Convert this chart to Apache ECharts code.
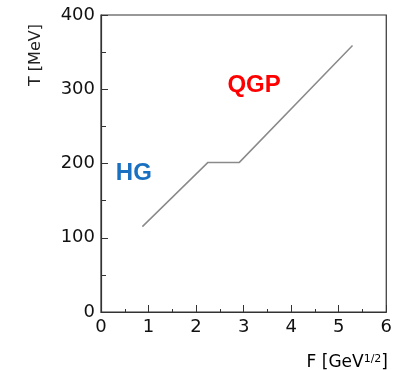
<!DOCTYPE html>
<html><head><meta charset="utf-8">
<script src="https://cdn.jsdelivr.net/npm/echarts@6/dist/echarts.min.js"></script>
<style>html,body{margin:0;padding:0;background:#fff}#c{width:395px;height:370px}</style>
</head><body><div id="c"></div>
<script>
// Curve T(F)
const lineF = [0.87, 2.25, 2.91, 5.29];
const lineT = [115, 201.5, 201.5, 359];
// Phase annotations
const phaseNames = ['HG', 'QGP'];
const phaseF = [0.69, 3.22];
const phaseT = [187, 305];
const phaseColors = ['#1a70c0', '#ff0000'];
// Axes
const xTicks = [0, 1, 2, 3, 4, 5, 6];
const yTicks = [0, 100, 200, 300, 400];

const chart = echarts.init(document.getElementById('c'));
const axisFont = {fontFamily: 'DejaVu Sans', fontSize: 18, color: '#111'};
chart.setOption({
  animation: false,
  grid: {left: 101, right: 7, top: 15, bottom: 58, show: true, borderColor: '#333', borderWidth: 1.2},
  xAxis: {
    type: 'value', min: xTicks[0], max: xTicks[xTicks.length - 1], interval: 1,
    axisLine: {lineStyle: {color: '#333', width: 1.2}},
    axisTick: {inside: true, length: 7, lineStyle: {color: '#333'}},
    minorTick: {show: true, splitNumber: 2, length: 3, lineStyle: {color: '#333'}},
    splitLine: {show: false},
    axisLabel: Object.assign({margin: 6}, axisFont)
  },
  yAxis: {
    type: 'value', min: yTicks[0], max: yTicks[yTicks.length - 1], interval: 100,
    axisLine: {show: true, lineStyle: {color: '#333', width: 1.2}},
    axisTick: {show: true, inside: true, length: 7, lineStyle: {color: '#333'}},
    minorTick: {show: true, splitNumber: 2, length: 5, lineStyle: {color: '#333'}},
    splitLine: {show: false},
    axisLabel: Object.assign({margin: 6}, axisFont)
  },
  series: [
    {
      type: 'line', data: lineF.map((f, i) => [f, lineT[i]]), symbol: 'none',
      lineStyle: {color: '#8a8a8a', width: 1.5}
    },
    {
      type: 'scatter', symbolSize: 0, itemStyle: {opacity: 1},
      data: phaseNames.map((n, i) => ({
        value: [phaseF[i], phaseT[i]], name: n,
        label: {show: true, position: 'inside', formatter: n, color: phaseColors[i], opacity: 1,
          fontFamily: 'Liberation Sans', fontWeight: 'bold', fontSize: 24}
      }))
    }
  ],
  graphic: [
    {type: 'text', x: 28, y: 86, rotation: Math.PI / 2, style: {
      text: 'T [MeV]', font: '16px DejaVu Sans', fill: '#222', textAlign: 'left', textVerticalAlign: 'top'}},
    {type: 'text', right: 7, top: 354, style: {
      text: '{n|F [GeV}{s|1/2}{n|]}', rich: {
        n: {fontSize: 17, fontFamily: 'DejaVu Sans', color: '#222'},
        s: {fontSize: 11, fontFamily: 'DejaVu Sans', color: '#222', verticalAlign: 'top', padding: [0,0,7,0]}
      }}}
  ]
});
</script></body></html>
